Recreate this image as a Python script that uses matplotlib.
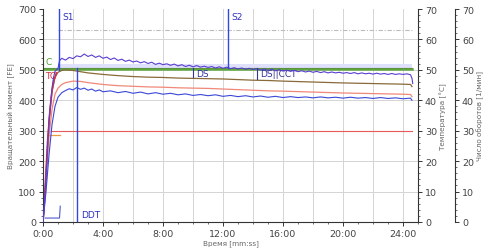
import matplotlib
matplotlib.use("Agg")
import matplotlib.pyplot as plt
from matplotlib.ticker import MultipleLocator, FuncFormatter

# ---------------- data ----------------
# torque (FE), upper trace
t_torque = [0, 0.1, 0.2, 0.3, 0.4, 0.5, 0.6, 0.7, 0.8, 0.9, 1.0, 1.1,
            1.25, 1.5, 1.75, 2.0, 2.25, 2.5, 2.75, 3.0, 3.25, 3.5, 3.75, 4.0,
            4.25, 4.5, 4.75, 5.0, 5.25, 5.5, 5.75, 6.0, 6.25, 6.5, 6.75, 7.0,
            7.25, 7.5, 7.75, 8.0, 8.25, 8.5, 8.75, 9.0, 9.25, 9.5, 9.75, 10.0,
            10.25, 10.5, 10.75, 11.0, 11.25, 11.5, 11.75, 12.0, 12.25, 12.5, 12.75, 13.0,
            13.25, 13.5, 13.75, 14.0, 14.25, 14.5, 14.75, 15.0, 15.25, 15.5, 15.75, 16.0,
            16.25, 16.5, 16.75, 17.0, 17.25, 17.5, 17.75, 18.0, 18.25, 18.5, 18.75, 19.0,
            19.25, 19.5, 19.75, 20.0, 20.25, 20.5, 20.75, 21.0, 21.25, 21.5, 21.75, 22.0,
            22.25, 22.5, 22.75, 23.0, 23.25, 23.5, 23.75, 24.0, 24.25, 24.5, 24.6, 24.65]
torque = [0, 60, 150, 250, 330, 390, 440, 475, 495, 500, 505, 530,
          538, 532, 541, 537, 546, 543, 552, 544, 549, 541, 546, 538,
          542, 534, 539, 531, 535, 528, 532, 526, 529, 523, 527, 521,
          525, 518, 522, 517, 520, 515, 519, 513, 517, 511, 515, 510,
          514, 509, 512, 508, 511, 506, 510, 505, 509, 504, 507, 503,
          506, 502, 505, 501, 504, 499, 503, 498, 502, 497, 500, 496,
          499, 495, 498, 494, 497, 493, 496, 492, 495, 491, 494, 490,
          493, 490, 492, 489, 491, 488, 491, 487, 490, 487, 489, 486,
          489, 486, 488, 485, 488, 485, 487, 485, 487, 484, 472, 455]

# torque, lower trace
t_torque2 = [0, 0.2, 0.4, 0.6, 0.8, 1.0, 1.25, 1.5, 1.75, 2.0, 2.25, 2.5, 2.75, 3.0,
             3.25, 3.5, 3.75, 4.0, 4.5, 5.0, 5.5, 6.0, 6.5, 7.0, 7.5, 8.0,
             8.5, 9.0, 9.5, 10.0, 10.5, 11.0, 11.5, 12.0, 12.5, 13.0, 13.5, 14.0,
             14.5, 15.0, 15.5, 16.0, 16.5, 17.0, 17.5, 18.0, 18.5, 19.0, 19.5, 20.0,
             20.5, 21.0, 21.5, 22.0, 22.5, 23.0, 23.5, 24.0, 24.5, 24.6]
torque2 = [0, 100, 220, 320, 380, 410, 425, 432, 438, 434, 442, 436, 440, 433,
           437, 430, 434, 428, 431, 425, 429, 423, 427, 421, 425, 420,
           423, 418, 421, 416, 419, 415, 418, 413, 416, 412, 415, 411,
           414, 410, 413, 409, 412, 409, 411, 408, 411, 408, 410, 407,
           410, 407, 409, 406, 409, 406, 408, 405, 407, 400]

# temperatures (°C)
t_temp = [0, 0.2, 0.4, 0.6, 0.8, 1.0, 1.25, 1.5, 2.0, 2.5, 3.0, 4.0, 5.0, 6.0,
          7.0, 8.0, 9.0, 10.0, 11.0, 12.0, 13.0, 14.0, 15.0, 16.0, 18.0, 20.0,
          22.0, 24.0, 24.5, 24.6]
temp_1 = [0, 15.0, 33.0, 43.0, 47.5, 49.2, 49.8, 50.0, 49.8, 49.4, 49.0, 48.5,
          48.1, 47.8, 47.6, 47.5, 47.3, 47.2, 47.1, 47.0, 46.8, 46.6, 46.5, 46.3,
          46.0, 45.7, 45.5, 45.3, 45.2, 44.5]
temp_2 = [0, 12.0, 28.0, 37.0, 42.0, 44.0, 45.2, 45.8, 46.3, 46.2, 45.8, 45.2,
          44.8, 44.6, 44.4, 44.3, 44.1, 44.0, 43.9, 43.7, 43.5, 43.3, 43.1, 43.0,
          42.7, 42.4, 42.2, 42.0, 41.9, 41.2]
t_tc = [0, 0.15, 0.3, 0.45, 0.6, 0.75, 0.9]
temp_tc = [0, 12.0, 26.0, 36.0, 43.0, 47.0, 49.0]

# speed (1/min)
t_speed = [0.0, 24.6]
speed = [50.3, 50.3]
speed_set = [50.7, 50.7]
t_band = [1.0, 24.6]
band_low = [49.5, 49.5]
band_high = [52.0, 52.0]

t_speed_start = [0.15, 1.1, 1.15]
speed_start = [1.3, 1.3, 5.2]

# reference levels
temp_ref = 30.0
t_temp_ref = [0.5, 24.6]
temp_start = 28.5
t_temp_start = [0.3, 1.1]
upper_ref = 63.0
t_upper_ref = [1.0, 24.6]

# event markers (minutes)
events = {"S1": 1.07, "S2": 12.33, "DDT": 2.27, "DS": 10.0, "DS||CCT": 14.27}

# ---------------- figure ----------------
W, H = 485, 251
fig = plt.figure(figsize=(W / 100, H / 100), dpi=100)
ax = fig.add_axes([43 / W, 1 - 223 / H, (418 - 43) / W, (223 - 10) / H])
ax_t = ax.twinx()
ax_s = ax.twinx()
ax_s.spines["right"].set_position(("outward", 26.6))

# drawing order: speed axis (bottom) -> temperature axis -> torque axis (top)
ax_s.set_zorder(1)
ax_t.set_zorder(2)
ax.set_zorder(3)
ax.patch.set_visible(False)
ax_t.patch.set_visible(False)
ax_s.patch.set_visible(True)
ax_s.patch.set_facecolor("white")

tick_col = "#444444"
grid_col = "#d4d4d4"
fs = 6.8

ax.set_xlim(0, 25)
ax_s.set_xlim(0, 25)
ax.set_ylim(0, 700)
ax_t.set_ylim(0, 70)
ax_s.set_ylim(0, 70)

# grid (on the bottom-most axes)
for x in range(2, 25, 2):
    ax_s.axvline(x, color=grid_col, lw=0.7, zorder=0)
for y in range(10, 70, 10):
    if y != 30:
        ax_s.axhline(y, color=grid_col, lw=0.7, zorder=0)

ax.set_xticks([0, 4, 8, 12, 16, 20, 24])
ax.xaxis.set_minor_locator(MultipleLocator(1))
ax.xaxis.set_major_formatter(FuncFormatter(lambda v, p: f"{int(v)}:00"))

# band + speed
ax_s.fill_between(t_band, band_low, band_high, color="#dfe0fb", zorder=1, lw=0)
ax_s.plot(t_speed, speed_set, color="#555555", lw=0.8, zorder=2)
ax_s.plot(t_speed, speed, color="#5ea83a", lw=1.8, zorder=3)
ax_s.plot(t_speed_start, speed_start, color="#5058d0", lw=0.8, zorder=3)

# reference lines
ax_t.plot(t_upper_ref, [upper_ref] * 2, color="#bcbcbc", lw=0.8, ls=(0, (4, 1.5, 1, 1.5)), zorder=2)
ax_t.plot([0, 0.5], [temp_ref] * 2, color=grid_col, lw=0.7, zorder=1)
ax_t.plot(t_temp_ref, [temp_ref] * 2, color="#e85a5a", lw=0.8, zorder=2)
ax_t.plot(t_temp_start, [temp_start] * 2, color="#f09a40", lw=0.9, zorder=2)

# temperatures
ax_t.plot(t_temp, temp_2, color="#f08878", lw=0.9, zorder=4)
ax_t.plot(t_temp, temp_1, color="#8a6a3a", lw=0.9, zorder=4)
ax_t.plot(t_tc, temp_tc, color="#d83040", lw=1.2, zorder=5)

# torques
ax.plot(t_torque2, torque2, color="#3a48d8", lw=0.8, zorder=5)
ax.plot(t_torque, torque, color="#5a3ed0", lw=0.8, zorder=5)

# event markers
vcol = "#3347e0"
ax.plot([events["S1"]] * 2, [500, 700], color=vcol, lw=1.0, zorder=6)
ax.plot([events["S2"]] * 2, [505, 700], color=vcol, lw=1.0, zorder=6)
ax.plot([events["DDT"]] * 2, [0, 505], color=vcol, lw=1.0, zorder=6)
ax.plot([events["DS"]] * 2, [478, 505], color="#333399", lw=0.8, zorder=6)
ax.plot([events["DS||CCT"]] * 2, [470, 505], color="#333399", lw=0.8, zorder=6)
lc = "#3030c0"
ax.text(events["S1"] + 0.2, 675, "S1", color=lc, fontsize=6.5, va="center")
ax.text(events["S2"] + 0.2, 675, "S2", color=lc, fontsize=6.5, va="center")
ax.text(events["DDT"] + 0.3, 25, "DDT", color=lc, fontsize=6.5, va="center")
ax.text(events["DS"] + 0.2, 488, "DS", color="#333399", fontsize=6.5, va="center")
ax.text(events["DS||CCT"] + 0.2, 488, "DS||CCT", color="#333399", fontsize=6.5, va="center")
ax.text(0.15, 528, "C", color="#4a9a30", fontsize=6.5, va="center")
ax.text(0.15, 480, "TC", color="#d83040", fontsize=6.5, va="center")

# spines / ticks
for a in (ax, ax_t, ax_s):
    a.spines["top"].set_visible(False)
ax.spines["right"].set_visible(False)
ax_t.spines["left"].set_visible(False)
ax_s.spines["left"].set_visible(False)
ax_t.spines["bottom"].set_visible(False)
ax_s.spines["bottom"].set_visible(False)
for sp in ("left", "bottom"):
    ax.spines[sp].set_color("#333333")
ax_t.spines["right"].set_color("#333333")
ax_s.spines["right"].set_color("#333333")

ax.set_yticks(range(0, 701, 100))
ax.yaxis.set_minor_locator(MultipleLocator(20))
for a in (ax_t, ax_s):
    a.set_yticks(range(0, 71, 10))
    a.yaxis.set_minor_locator(MultipleLocator(2))
for a in (ax, ax_t, ax_s):
    a.tick_params(axis="both", which="major", labelsize=fs, colors="#333333",
                  labelcolor=tick_col, length=3, width=0.7, pad=2)
    a.tick_params(axis="both", which="minor", length=1.5, width=0.5, colors="#333333")
ax_s.tick_params(axis="x", which="both", bottom=False, labelbottom=False)

ax.set_xlabel("Время [mm:ss]", fontsize=5.2, color="#666666", labelpad=1)
ax.set_ylabel("Вращательный момент [FE]", fontsize=5.2, color="#666666", labelpad=2)
ax_t.set_ylabel("Температура [°C]", fontsize=5.2, color="#666666", labelpad=2)
ax_s.set_ylabel("Число оборотов [1/мин]", fontsize=5.2, color="#666666", labelpad=2)

fig.savefig("out.png", dpi=100)
